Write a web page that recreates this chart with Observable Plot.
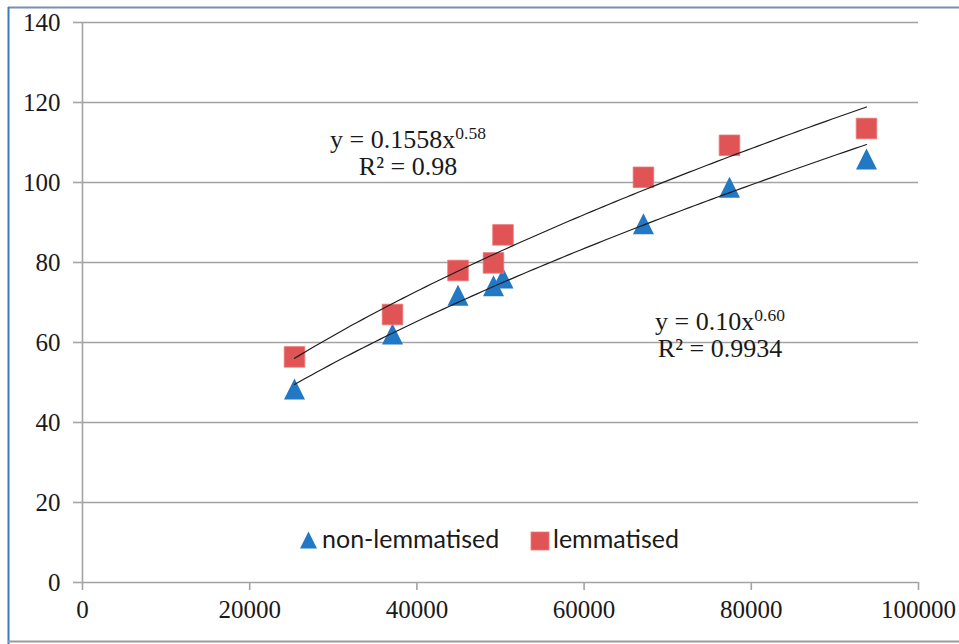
<!DOCTYPE html>
<html><head><meta charset="utf-8">
<script src="https://cdn.jsdelivr.net/npm/d3@7"></script>
<script src="https://cdn.jsdelivr.net/npm/@observablehq/plot@0.6"></script>
<style>
body{margin:0;background:#fff;overflow:hidden}
#chart{position:relative;width:959px;height:644px}
</style>
</head><body><div id="chart"></div>
<script>
// ---- data ----
const corpusSize = [25360, 37080, 44920, 49160, 50300, 67100, 77390, 93780];
const nonLemmatised = [48.4, 62.1, 71.8, 74.2, 76.1, 89.7, 98.8, 105.9];
const lemmatised = [56.4, 67.0, 78.0, 79.9, 86.9, 101.3, 109.3, 113.5];
const seriesNames = ["non-lemmatised", "lemmatised"];
const xTicks = [0, 20000, 40000, 60000, 80000, 100000];
const yTicks = [0, 20, 40, 60, 80, 100, 120, 140];
const eqLemmatised = ["y = 0.1558x", "0.58", "R² = 0.98"];
const eqNonLemmatised = ["y = 0.10x", "0.60", "R² = 0.9934"];

const blue = "#2178c4", red = "#e05456";
const serif = "'Liberation Serif', 'Times New Roman', serif";

const triSymbol = {draw(ctx, size){const k=Math.sqrt(size/Math.PI);ctx.moveTo(0,-k);ctx.lineTo(k,k);ctx.lineTo(-k,k);ctx.closePath();}};
const sqSymbol = {draw(ctx, size){const k=Math.sqrt(size/Math.PI);ctx.rect(-k,-k,2*k,2*k);}};

const ptsA = corpusSize.map((x,i)=>({x, y: nonLemmatised[i]}));
const ptsB = corpusSize.map((x,i)=>({x, y: lemmatised[i]}));

function powerFit(pts){
  const lx = pts.map(p=>Math.log(p.x)), ly = pts.map(p=>Math.log(p.y));
  const mx = d3.mean(lx), my = d3.mean(ly);
  const b = d3.sum(lx.map((v,i)=>(v-mx)*(ly[i]-my))) / d3.sum(lx.map(v=>(v-mx)**2));
  const a = Math.exp(my - b*mx);
  const [x0,x1] = d3.extent(pts, p=>p.x);
  return d3.range(0,101).map(i=>{const x=x0+(x1-x0)*i/100;return {x, y:a*Math.pow(x,b)};});
}
const fitA = powerFit(ptsA), fitB = powerFit(ptsB);

const grid = "#a3a3a3";
const plot = Plot.plot({
  width: 959, height: 644,
  marginLeft: 82, marginRight: 41, marginTop: 22, marginBottom: 62,
  style: {background: "#fff", color: "#1a1a1a"},
  x: {domain: [0, 100000]},
  y: {domain: [0, 140]},
  marks: [
    Plot.ruleY(yTicks, {stroke: grid, strokeWidth: 1.6}),
    Plot.ruleX([0], {stroke: grid, strokeWidth: 1.6}),
    Plot.axisY({ticks: yTicks, tickSize: 9, tickPadding: 13, stroke: grid, strokeWidth: 1.6, fill: "#1a1a1a", fontSize: 25, label: null, tickFormat: d=>String(d)}),
    Plot.axisX({ticks: xTicks, tickSize: 8, tickPadding: 10, stroke: grid, strokeWidth: 1.6, fill: "#1a1a1a", fontSize: 25, label: null, tickFormat: d=>String(d)}),
    Plot.dot(ptsA, {x: "x", y: "y", symbol: triSymbol, r: 10.5, fill: blue, stroke: null}),
    Plot.dot(ptsB, {x: "x", y: "y", symbol: sqSymbol, r: 10.3, fill: red, stroke: "#ea7a7a", strokeWidth: 0.8}),
    Plot.line(fitA, {x: "x", y: "y", stroke: "#1e1e1e", strokeWidth: 1.2}),
    Plot.line(fitB, {x: "x", y: "y", stroke: "#1e1e1e", strokeWidth: 1.2})
  ]
});
document.getElementById("chart").appendChild(plot);

// ---- decorations: frame, equations, legend ----
const svg = d3.select(plot);
svg.selectAll("text").style("font-family", serif).style("font-variant", "normal");
svg.append("line").attr("x1",8).attr("x2",959).attr("y1",7.5).attr("y2",7.5).attr("stroke","#7a90b0").attr("stroke-width",2);
svg.append("line").attr("x1",8.5).attr("x2",8.5).attr("y1",7).attr("y2",644).attr("stroke","#3a7cc0").attr("stroke-width",2);
svg.append("line").attr("x1",8).attr("x2",959).attr("y1",641.5).attr("y2",641.5).attr("stroke","#9a9a9a").attr("stroke-width",2);

function equation(eq, cx, y1, y2){
  const t = svg.append("text").attr("x",cx).attr("y",y1).attr("text-anchor","middle")
    .style("font-family",serif).attr("font-size",26).attr("fill","#1a1a1a");
  t.append("tspan").text(eq[0]);
  t.append("tspan").attr("font-size",17.5).attr("dy",-9).text(eq[1]);
  svg.append("text").attr("x",cx).attr("y",y2).attr("text-anchor","middle")
    .style("font-family",serif).attr("font-size",26).attr("fill","#1a1a1a").text(eq[2]);
}
equation(eqLemmatised, 408, 148, 175);
equation(eqNonLemmatised, 720, 330, 357);

const lg = svg.append("g").style("font-family","Lato, 'Open Sans', sans-serif").attr("font-size",25).attr("fill","#1a1a1a").attr("text-anchor","start");
lg.append("path").attr("d","M308.5,531.5L317,548.5L300,548.5Z").attr("fill",blue);
lg.append("text").attr("x",322).attr("y",548).attr("text-anchor","start").text(seriesNames[0]);
lg.append("rect").attr("x",531).attr("y",532).attr("width",18).attr("height",18).attr("fill",red).attr("stroke","#ea7a7a").attr("stroke-width",0.8);
lg.append("text").attr("x",553).attr("y",548).attr("text-anchor","start").text(seriesNames[1]);
</script>
</body></html>
